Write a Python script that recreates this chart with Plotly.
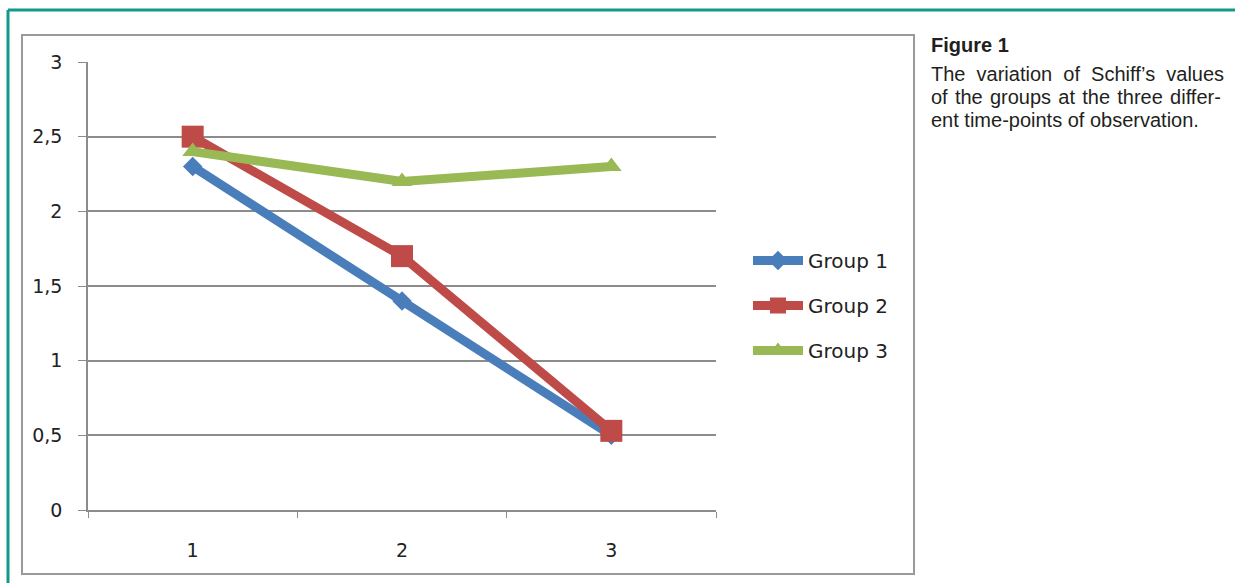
import plotly.graph_objects as go

categories = [1, 2, 3]
category_labels = ["1", "2", "3"]
group1 = [2.3, 1.4, 0.5]
group2 = [2.5, 1.7, 0.53]
group3 = [2.4, 2.2, 2.3]
series_names = ["Group 1", "Group 2", "Group 3"]
y_ticks = [0, 0.5, 1, 1.5, 2, 2.5, 3]
caption_title = "Figure 1"
caption_lines = [
    "The variation of Schiff’s values",
    "of the groups at the three differ-",
    "ent time-points of observation.",
]

W, H = 1235, 583
L, R, T, B = 88, 716, 62, 510

def px(x):
    return (x - L) / (R - L)

def py(y):
    return (B - y) / (B - T)

fig = go.Figure()
styles = [
    dict(color="#4a7ebb", symbol="diamond", size=15),
    dict(color="#be4b48", symbol="square", size=22),
    dict(color="#98b954", symbol="triangle-up", size=18),
]
for i, (name, vals, st) in enumerate(zip(series_names, [group1, group2, group3], styles)):
    fig.add_trace(go.Scatter(
        x=categories, y=vals, name=name, mode="lines+markers",
        line=dict(color=st["color"], width=9),
        marker=dict(color=st["color"], symbol=st["symbol"], size=st["size"]),
        legendgroup=f"g{i}",
    ))

tickfont = dict(family="DejaVu Sans", size=19, color="#222")

annotations = [
    dict(xref="paper", yref="paper", x=px(929), y=py(45), xanchor="left", yanchor="middle",
         text=f"<b>{caption_title}</b>", showarrow=False, align="left",
         font=dict(family="Liberation Sans", size=20, color="#231f20")),
]
# approximate justified text by widening word gaps on the first two lines
seps = [" &nbsp;", " \u200a", " "]
for line, yc, sep in zip(caption_lines, [74, 97, 120], seps):
    annotations.append(dict(
        xref="paper", yref="paper", x=px(929), y=py(yc), xanchor="left", yanchor="middle",
        text=sep.join(line.split(" ")), showarrow=False, align="left",
        font=dict(family="Liberation Sans", size=20, color="#231f20")))

fig.update_layout(
    width=W, height=H,
    margin=dict(l=L, r=W - R, t=T, b=H - B),
    paper_bgcolor="white", plot_bgcolor="white",
    separators=",.",
    font=dict(family="DejaVu Sans", size=16, color="#222"),
    showlegend=True,
    legend=dict(x=px(748), y=py(241), xanchor="left", yanchor="top",
                bgcolor="rgba(0,0,0,0)", tracegroupgap=16,
                font=dict(family="DejaVu Sans", size=20, color="#222"),
                itemwidth=50),
    xaxis=dict(range=[0.5, 3.5], tickvals=categories, ticktext=category_labels,
               ticks="", showgrid=False, zeroline=False, tickfont=tickfont,
               showline=True, linecolor="#8c8c8c", linewidth=1.5,
               ticklabelstandoff=22, fixedrange=True,
               minor=dict(tickvals=[0.5, 1.5, 2.5, 3.5], ticks="outside", ticklen=6,
                          tickcolor="#8c8c8c", showgrid=False)),
    yaxis=dict(range=[0, 3], tickvals=y_ticks, ticks="outside", ticklen=8,
               tickcolor="#8c8c8c", showgrid=True, gridcolor="#8c8c8c", gridwidth=1.5,
               zeroline=False, showline=True, linecolor="#8c8c8c", linewidth=1.5,
               tickfont=tickfont, ticklabelstandoff=12, fixedrange=True),
    shapes=[
        dict(type="rect", xref="paper", yref="paper",
             x0=px(22), x1=px(914), y0=py(574), y1=py(35),
             line=dict(color="#9a9a9a", width=2), layer="below"),
        dict(type="line", xref="paper", yref="paper",
             x0=px(8), x1=px(1236), y0=py(10), y1=py(10),
             line=dict(color="#12998a", width=3)),
        dict(type="line", xref="paper", yref="paper",
             x0=px(8), x1=px(8), y0=py(10), y1=py(584),
             line=dict(color="#12998a", width=3)),
    ],
    annotations=annotations,
)

fig.write_html("out.html")
